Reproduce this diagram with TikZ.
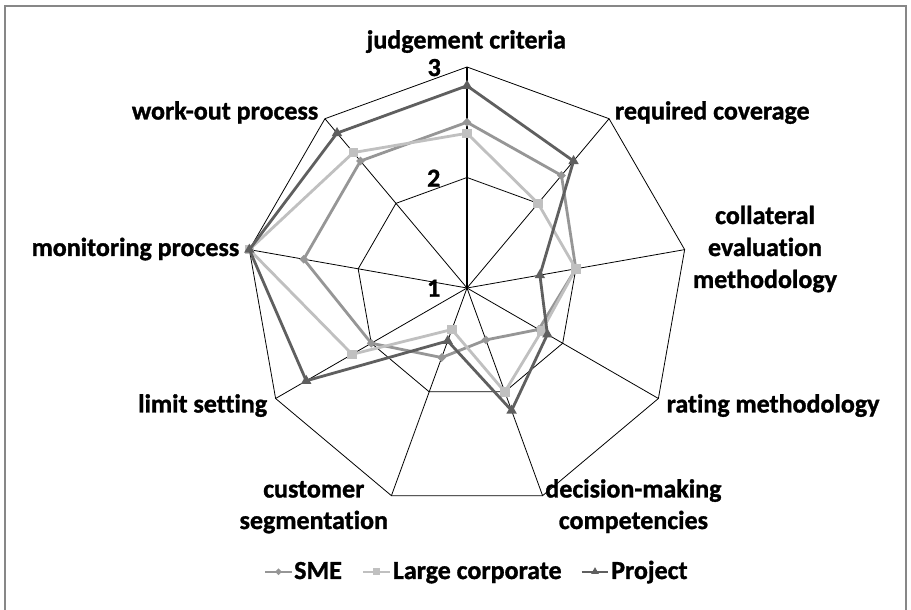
\documentclass[tikz,border=0pt]{standalone}
\usepackage{fontspec}
\setmainfont{Carlito}[BoldFeatures={FakeBold=1.2}, Ligatures=NoCommon]
\usetikzlibrary{calc,shapes.geometric}
\definecolor{smec}{HTML}{969696}
\definecolor{lcc}{HTML}{C0C0C0}
\definecolor{prc}{HTML}{5F5F5F}
\definecolor{framec}{HTML}{878787}
\begin{document}
\begin{tikzpicture}[x=1pt,y=1pt,
  lbl/.style={font=\bfseries\fontsize{26}{32}\selectfont, inner sep=0pt, text=black},
  gridl/.style={draw=black, line width=0.8pt},
  axisl/.style={draw=black, line width=1.6pt},
  smeline/.style={draw=smec, line width=2.8pt, line join=round},
  lcline/.style={draw=lcc, line width=2.8pt, line join=round},
  prline/.style={draw=prc, line width=2.8pt, line join=round},
  smemark/.style={diamond, fill=smec, inner sep=0pt, minimum width=9pt, minimum height=9pt},
  lcmark/.style={rectangle, fill=lcc, inner sep=0pt, minimum size=9.5pt},
  prmark/.style={regular polygon, regular polygon sides=3, fill=prc, inner sep=0pt, minimum size=12pt},
]
\useasboundingbox (0,0) rectangle (911,610);
\fill[white] (0,0) rectangle (911,610);
% frame
\draw[framec, line width=2.4pt] (4.7,-2) -- (4.7,603.8) -- (906,603.8) -- (906,-2);

\coordinate (C) at (467,322);
% spokes
\foreach \i in {1,...,8} { \draw[gridl] (C) -- ($(C)+({90-40*\i}:221)$); }
% rings
\draw[gridl] ($(C)+(90:221)$) \foreach \i in {1,...,8} { -- ($(C)+({90-40*\i}:221)$) } -- cycle;
\draw[gridl] ($(C)+(90:110.5)$) \foreach \i in {1,...,8} { -- ($(C)+({90-40*\i}:110.5)$) } -- cycle;
\draw[axisl] (C) -- ($(C)+(90:221)$);

% value labels
\node[lbl, anchor=base east] (v3) at (441,534) {3};
\node[lbl, anchor=base east] (v2) at (440.5,423.3) {2};
\node[lbl, anchor=base east] (v1) at (440.5,313.3) {1};

% data
\foreach \v [count=\i from 0] in {2.5,2.33,2.0,1.75,1.5,1.67,2.0,2.5,2.5}
  \coordinate (s\i) at ($(C)+({90-40*\i}:{(\v-1)*110.5})$);
\foreach \v [count=\i from 0] in {2.4,2.0,2.0,1.78,2.0,1.4,2.2,3.0,2.6}
  \coordinate (l\i) at ($(C)+({90-40*\i}:{(\v-1)*110.5})$);
\foreach \v [count=\i from 0] in {2.83,2.5,1.67,1.84,2.18,1.51,2.68,3.0,2.83}
  \coordinate (p\i) at ($(C)+({90-40*\i}:{(\v-1)*110.5})$);

\draw[smeline] (s0) \foreach \i in {1,...,8} { -- (s\i) } -- cycle;
\foreach \i in {0,...,8} \node[smemark] (sm\i) at (s\i) {};
\draw[lcline] (l0) \foreach \i in {1,...,8} { -- (l\i) } -- cycle;
\foreach \i in {0,...,8} \node[lcmark] (lm\i) at (l\i) {};
\draw[prline] (p0) \foreach \i in {1,...,8} { -- (p\i) } -- cycle;
\foreach \i in {0,...,8} \node[prmark] (pm\i) at (p\i) {};

% category labels
\node[lbl, anchor=base] (c0) at (466.4,561.5) {judgement criteria};
\node[lbl, anchor=base west] (c1) at (614.8,490.5) {required coverage};
\node[lbl, anchor=base] (c2a) at (765,386) {collateral};
\node[lbl, anchor=base] (c2b) at (765,354) {evaluation};
\node[lbl, anchor=base] (c2c) at (765,322) {methodology};
\node[lbl, anchor=base west] (c3) at (666.5,197.5) {rating methodology};
\node[lbl, anchor=base] (c4a) at (633.4,112.5) {decision-making};
\node[lbl, anchor=base] (c4b) at (633.4,81) {competencies};
\node[lbl, anchor=base] (c5a) at (313.8,112.5) {customer};
\node[lbl, anchor=base] (c5b) at (313.8,81) {segmentation};
\node[lbl, anchor=base east] (c6) at (267.3,197.5) {limit setting};
\node[lbl, anchor=base east] (c7) at (239.4,354) {monitoring process};
\node[lbl, anchor=base east] (c8) at (318.4,490.5) {work-out process};

% legend
\coordinate (la1) at (265,38.3); \coordinate (lb1) at (292,38.3);
\coordinate (la2) at (363,38.3); \coordinate (lb2) at (390,38.3);
\coordinate (la3) at (581.7,38.3); \coordinate (lb3) at (608.3,38.3);
\draw[draw=smec, line width=2.2pt] (la1) -- (lb1);
\node[smemark, minimum width=7pt, minimum height=7pt] (lgm1) at ($(la1)!0.5!(lb1)$) {};
\draw[draw=lcc, line width=2.2pt] (la2) -- (lb2);
\node[lcmark, minimum size=7pt] (lgm2) at ($(la2)!0.5!(lb2)$) {};
\draw[draw=prc, line width=2.2pt] (la3) -- (lb3);
\node[prmark, minimum size=9pt] (lgm3) at ($(la3)!0.5!(lb3)$) {};
\node[lbl, anchor=base west] (lg1) at (294,31) {SME};
\node[lbl, anchor=base west] (lg2) at (392.7,31) {Large corporate};
\node[lbl, anchor=base west] (lg3) at (611,31) {Project};
\end{tikzpicture}
\end{document}
